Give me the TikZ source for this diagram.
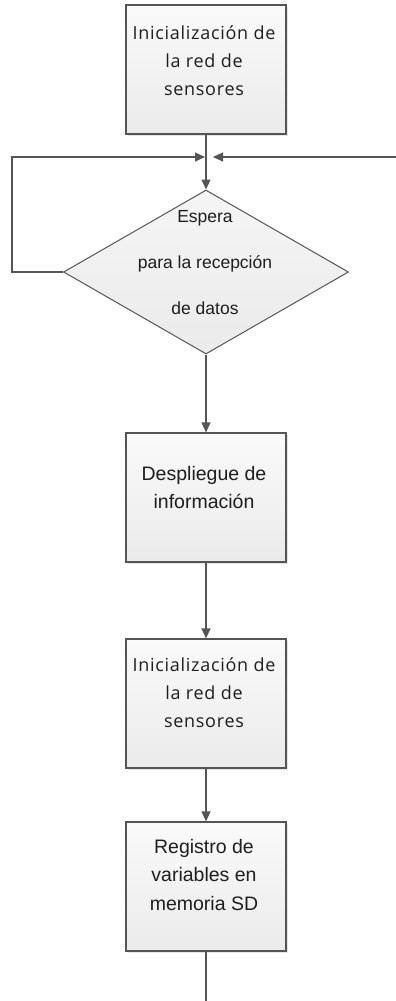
\documentclass[tikz,border=0pt]{standalone}
\usepackage{fontspec}
\setmainfont{Liberation Sans}
\newfontfamily\uifont[LetterSpace=4]{Open Sans}
\usetikzlibrary{arrows.meta,shapes.geometric,shadows}
\definecolor{linec}{HTML}{555555}
\definecolor{textc}{HTML}{1E1E1E}
\tikzset{
  procbox/.style={draw=linec, line width=1.2bp, minimum width=160bp, minimum height=129bp,
    inner sep=0pt, top color=black!2, bottom color=black!8,
    drop shadow={shadow xshift=1.5bp, shadow yshift=-1.5bp, opacity=0.2}},
  decbox/.style={draw=linec, line width=1bp, diamond, minimum width=285bp, minimum height=164bp,
    inner sep=0pt, top color=black!4, bottom color=black!8},
  uitext/.style={text=textc, align=center, inner sep=0pt, font=\uifont\fontsize{18bp}{28bp}\selectfont},
  artext/.style={text=textc, align=center, inner sep=0pt, font=\fontsize{19.5bp}{28.5bp}\selectfont},
  dtext/.style={text=textc, align=center, inner sep=0pt, font=\fontsize{17.5bp}{46bp}\selectfont},
  conn/.style={draw=linec, line width=1.2bp, -{Triangle[length=10bp,width=9bp]}},
  plain/.style={draw=linec, line width=1.2bp}
}
\begin{document}
\begin{tikzpicture}[x=1bp,y=-1bp]
\useasboundingbox[fill=white] (0,0) rectangle (395,1001);
\node[procbox] (b1) at (206,69.5) {};
\node[uitext] (t1) at (204,61) {Inicialización de\\la red de\\sensores};
\node[decbox] (d) at (206,272) {};
\node[dtext] (td) at (205,263) {Espera\\para la recepción\\de datos};
\node[procbox] (b2) at (206,497.5) {};
\node[artext] (t2) at (204,487.5) {Despliegue de\\información};
\node[procbox] (b3) at (206,703.5) {};
\node[uitext] (t3) at (204,693) {Inicialización de\\la red de\\sensores};
\node[procbox] (b4) at (206,886.5) {};
\node[artext] (t4) at (204,875) {Registro de\\variables en\\memoria SD};
\coordinate (j) at (206,157);
\coordinate (lc) at (12,157);
\coordinate (rc) at (396,157);
\coordinate (endc) at (206,1002);
\draw[conn] (b1.south) -- (d.north);
\draw[conn, shorten >=1bp] (d.west) -| (lc) -- (j);
\draw[conn, shorten >=7bp] (rc) -- (j);
\draw[conn] (d.south) -- (b2.north);
\draw[conn] (b2.south) -- (b3.north);
\draw[conn] (b3.south) -- (b4.north);
\draw[plain] (b4.south) -- (endc);
\end{tikzpicture}
\end{document}
